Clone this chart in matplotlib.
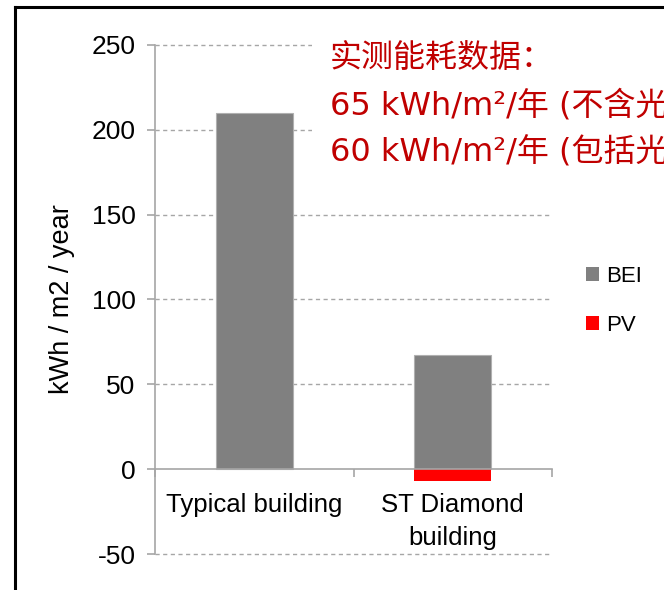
import matplotlib
matplotlib.use("Agg")
import matplotlib.pyplot as plt
from matplotlib.patches import Patch, Rectangle
from matplotlib.lines import Line2D

plt.rcParams['font.family'] = ['Liberation Sans', 'DejaVu Sans']
plt.rcParams['axes.unicode_minus'] = False

# Annual energy use intensity by building
categories = ["Typical building", "ST Diamond\nbuilding"]
bei_values = [210, 67]
pv_values = [0, -7]
y_ticks = [-50, 0, 50, 100, 150, 200, 250]

note_lines = ["实测能耗数据：", "65 kWh/m²/年 (不含光", "60 kWh/m²/年 (包括光"]

bei_color = "#808080"
pv_color = "#FF0000"
axis_gray = "#A6A6A6"
W, H = 664, 590

fig = plt.figure(figsize=(W / 100, H / 100), dpi=100)
ax = fig.add_axes([155 / W, 1 - 554 / H, (552 - 155) / W, (554 - 45) / H])

x = list(range(len(categories)))
ax.bar(x, bei_values, width=0.39, color=bei_color, edgecolor="#B0B0B0",
       linewidth=0.8, zorder=3)
ax.bar(x, pv_values, width=0.39, color=pv_color, edgecolor="none", zorder=3)

ax.set_xlim(-0.5, len(categories) - 0.5)
ax.set_ylim(-50, 250)
ax.set_yticks(y_ticks)

# dashed grid for every tick except the zero axis line
for v in y_ticks:
    if v != 0:
        ax.axhline(v, color=axis_gray, linestyle=(0, (3, 2.5)), linewidth=1.0,
                   zorder=1, clip_on=False)

for side in ("top", "right"):
    ax.spines[side].set_visible(False)
ax.spines['left'].set_color(axis_gray)
ax.spines['left'].set_linewidth(1.2)
ax.spines['bottom'].set_position(('data', 0))
ax.spines['bottom'].set_color(axis_gray)
ax.spines['bottom'].set_linewidth(1.2)
ax.spines['bottom'].set_zorder(4)

ax.set_xticks(x)
ax.set_xticklabels(categories, fontsize=18.5, linespacing=1.5)
ax.tick_params(axis='x', which='major', length=0, pad=17)
ax.set_xticks([i - 0.5 for i in range(len(categories) + 1)], minor=True)
ax.tick_params(axis='x', which='minor', length=6, color=axis_gray, width=1.2,
               direction='out')
ax.tick_params(axis='y', length=6, color=axis_gray, width=1.2, labelsize=19,
               pad=8)

ax.set_ylabel("kWh / m2 / year", fontsize=19.5, labelpad=12)

legend_handles = [Patch(facecolor=bei_color, edgecolor="none", label="BEI"),
                  Patch(facecolor=pv_color, edgecolor="none", label="PV")]
fig.legend(handles=legend_handles, loc="center left",
           bbox_to_anchor=(566 / W, 1 - 301 / H), frameon=False,
           fontsize=16, handlelength=0.6, handleheight=0.6,
           handletextpad=0.3, labelspacing=1.25)

# white panel behind the note
fig.add_artist(Rectangle((312 / W, 1 - 168 / H), (W - 312) / W, 136 / H,
                         transform=fig.transFigure, facecolor="white",
                         edgecolor="none", zorder=2))
for i, line in enumerate(note_lines):
    fig.text(330 / W, 1 - (67 + i * 47) / H, line, color="#C00000",
             fontsize=23, va="baseline", ha="left", zorder=3,
             family=['DejaVu Sans', 'Noto Sans CJK SC'])

# outer frame
fig.add_artist(Line2D([14.5 / W, 1.01], [1 - 7 / H, 1 - 7 / H],
                      transform=fig.transFigure, color="black", linewidth=2.2,
                      zorder=5))
fig.add_artist(Line2D([14.5 / W, 14.5 / W], [1 - 7 / H, -0.01],
                      transform=fig.transFigure, color="black", linewidth=2.2,
                      zorder=5))

fig.savefig("out.png", dpi=100)
